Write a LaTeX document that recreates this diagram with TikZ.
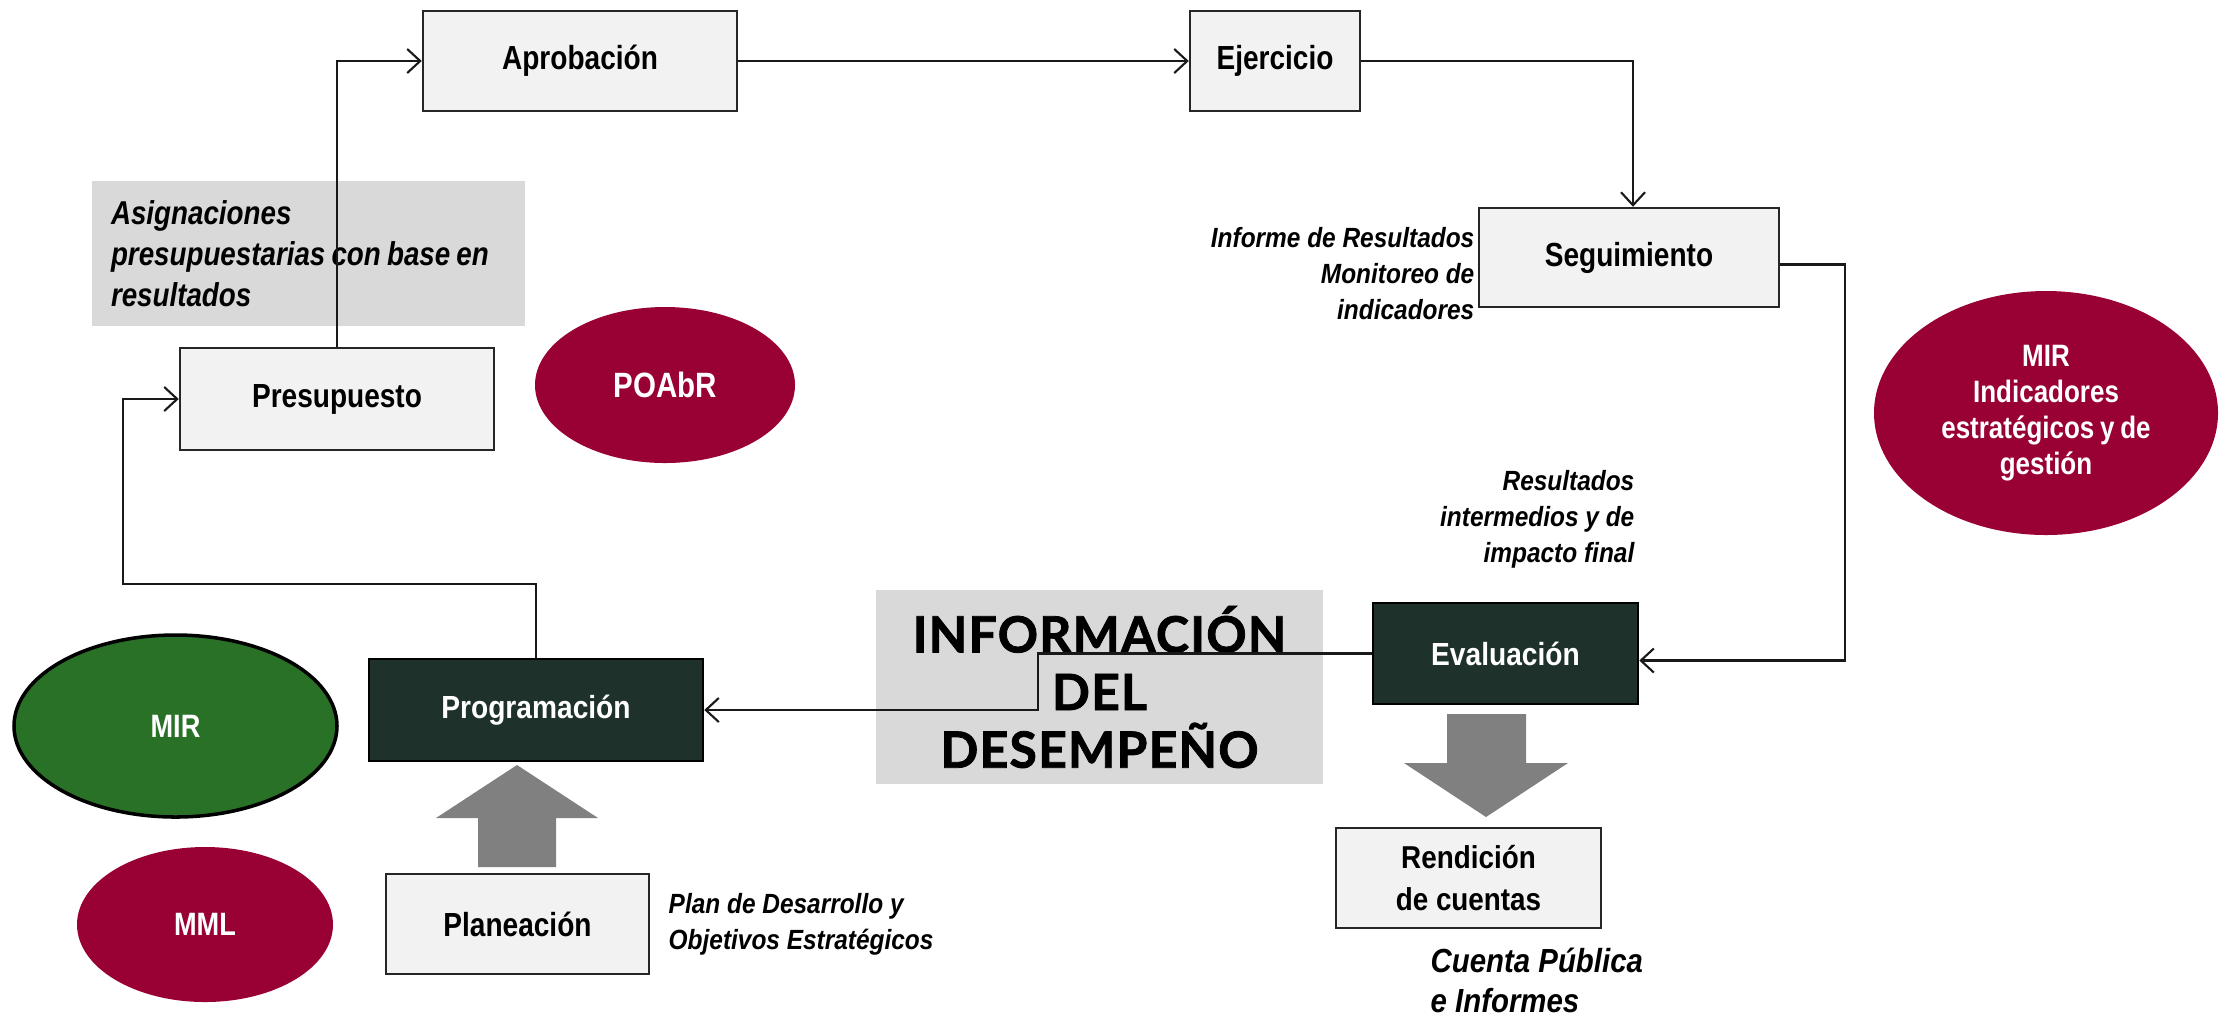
\documentclass[tikz,border=0pt]{standalone}
\usepackage{fontspec}
\setmainfont{Liberation Sans}
\newfontfamily\narrowfont[FakeStretch=0.84,WordSpace=0.8]{Liberation Sans}
\newfontfamily\labelfont[FakeStretch=0.88]{Liberation Sans}
\newfontfamily\infofont[LetterSpace=2.5,BoldFeatures={FakeBold=1.6}]{Lato}
\usetikzlibrary{positioning,arrows.meta,shapes.geometric}

\definecolor{boxgrey}{HTML}{F2F2F2}
\definecolor{panelgrey}{HTML}{D9D9D9}
\definecolor{darkgreen}{HTML}{1E322B}
\definecolor{maroon}{HTML}{990033}
\definecolor{leafgreen}{HTML}{2A7128}
\definecolor{arrowgrey}{HTML}{808080}

\tikzset{
	lightbox/.style={minimum height=1cm,draw=black!85,line width=0.7pt,fill=boxgrey,font=\narrowfont\bfseries\fontsize{9.5}{11}\selectfont},
	darkbox/.style={minimum height=1.01cm,draw=black,line width=0.7pt,fill=darkgreen,text=white,font=\labelfont\bfseries\fontsize{9.1}{11}\selectfont},
	oval/.style={ellipse,fill=maroon,text=white,align=center,inner sep=0pt,font=\narrowfont\bfseries\fontsize{9.2}{10.2}\selectfont},
	note/.style={inner sep=0pt,font=\labelfont\bfseries\itshape\fontsize{7.9}{10.2}\selectfont},
	panel/.style={fill=panelgrey,inner sep=0pt},
	conn/.style={draw=black!90,line width=0.6pt,-{Straight Barb[length=1.3mm,width=2.4mm]}},
	blockarrow/.style={fill=arrowgrey},
}

\begin{document}
\begin{tikzpicture}
		\useasboundingbox (0,0) rectangle (22.26,-10.18);
		
		% upper cycle
		\node[lightbox,minimum width=3.14cm] (aprob) at (5.80,-0.61) {Aprobación};
		\node[lightbox,minimum width=1.70cm] (ejer) at (12.75,-0.61) {Ejercicio};
		\node[lightbox,minimum width=3.00cm,minimum height=0.99cm] (seg) at (16.29,-2.575) {Seguimiento};
		
		\node[panel,minimum width=4.33cm,minimum height=1.45cm,text width=3.95cm,align=flush left,font=\narrowfont\bfseries\itshape\fontsize{9.4}{11.7}\selectfont] (asig) at (3.085,-2.535) {Asignaciones\\presupuestarias con base en\\resultados};
		
		\node[lightbox,minimum width=3.14cm,minimum height=1.02cm] (presup) at (3.37,-3.99) {Presupuesto};
		\node[oval,minimum width=2.60cm,minimum height=1.56cm,font=\narrowfont\bfseries\fontsize{10}{11}\selectfont] (poabr) at (6.65,-3.85) {POAbR};
		
		\node[note,align=flush right,anchor=north east] (informe) at (14.75,-2.27) {Informe de Resultados\\Monitoreo de\\indicadores};
		
		\node[oval,minimum width=3.44cm,minimum height=2.44cm,font=\narrowfont\bfseries\fontsize{8.8}{10.3}\selectfont] (mirind) at (20.46,-4.13) {MIR\\Indicadores\\estratégicos y de\\gestión};
		
		\node[note,align=flush right,anchor=north east] (resint) at (16.35,-4.70) {Resultados\\intermedios y de\\impacto final};
		
		% lower row
		\node[panel,minimum width=4.47cm,minimum height=1.94cm,align=center,font=\infofont\bfseries\fontsize{14.2}{16.4}\selectfont] (info) at (10.995,-6.87) {INFORMACIÓN\\DEL\\DESEMPEÑO};
		
		\node[darkbox,minimum width=2.65cm] (eval) at (15.055,-6.535) {Evaluación};
		\node[darkbox,minimum width=3.34cm,minimum height=1.02cm] (prog) at (5.36,-7.10) {Programación};
		
		\node[ellipse,draw=black,line width=1pt,fill=leafgreen,text=white,inner sep=0pt,minimum width=3.23cm,minimum height=1.82cm,font=\narrowfont\bfseries\fontsize{9.2}{10.2}\selectfont] (mirgreen) at (1.755,-7.26) {MIR};
		\node[oval,minimum width=2.56cm,minimum height=1.55cm] (mml) at (2.05,-9.245) {MML};
		
		\node[lightbox,minimum width=2.63cm] (plan) at (5.175,-9.24) {Planeación};
		\node[note,align=flush left,anchor=north west] (plandes) at (6.68,-8.93) {Plan de Desarrollo y\\Objetivos Estratégicos};
		
		\node[lightbox,minimum width=2.65cm,align=center,font=\labelfont\bfseries\fontsize{9}{11.7}\selectfont] (rend) at (14.685,-8.78) {Rendición\\de cuentas};
		\node[align=flush left,anchor=north west,inner sep=0pt,font=\labelfont\bfseries\itshape\fontsize{9.5}{11.4}\selectfont] (cuenta) at (14.30,-9.47) {Cuenta Pública\\e Informes};
		
		% block arrows
		\fill[blockarrow] (4.78,-8.67) -- (4.78,-8.18) -- (4.36,-8.18) -- (5.17,-7.65) -- (5.98,-8.18) -- (5.56,-8.18) -- (5.56,-8.67) -- cycle;
		\fill[blockarrow] (14.47,-7.14) -- (14.47,-7.63) -- (14.04,-7.63) -- (14.86,-8.17) -- (15.68,-7.63) -- (15.26,-7.63) -- (15.26,-7.14) -- cycle;
		
		% connectors
		\draw[conn] (presup.north) |- (aprob.west);
		\draw[conn] (aprob) -- (ejer);
		\draw[conn] (ejer.east) -| ([xshift=0.04cm]seg.north);
		\draw[conn] ([yshift=-0.07cm]seg.east) -- ++(0.65,0) |- ([yshift=-0.07cm]eval.east);
		\draw[conn] (eval.west) -- ++(-3.34,0) |- (prog.east);
		\draw[conn] (prog.north) -- ++(0,0.74) -| ([xshift=-0.56cm]presup.west) -- (presup.west);
	\end{tikzpicture}
\end{document}
